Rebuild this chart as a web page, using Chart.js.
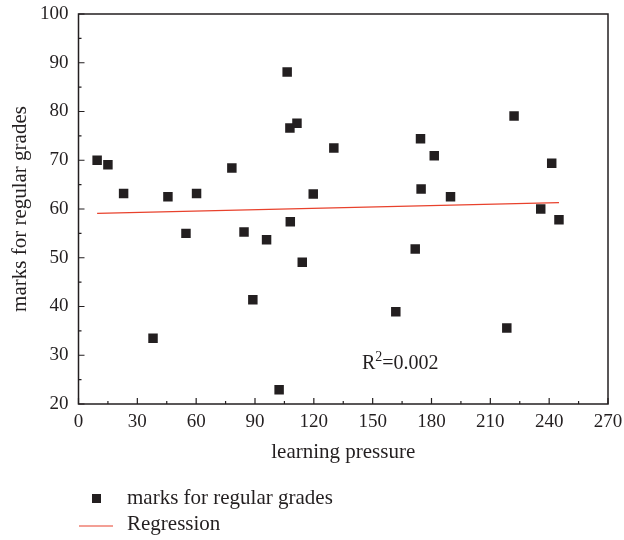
<!DOCTYPE html>
<html>
<head>
<meta charset="utf-8">
<script src="https://cdn.jsdelivr.net/npm/chart.js@4/dist/chart.umd.min.js"></script>
<style>
  html, body { margin: 0; padding: 0; background: #fff; }
  #wrap { width: 624px; height: 540px; }
</style>
</head>
<body>
<div id="wrap"><canvas id="grafico" width="624" height="540"></canvas></div>
<script>
// learning pressure (x) vs marks for regular grades (y)
const pressao = [9.5, 15, 23, 38, 45.6, 54.8, 60.2, 78.2, 84.4, 88.9, 95.9, 102.3, 106.4, 107.8, 108, 111.4,
                 114.1, 119.7, 130.2, 161.8, 171.7, 174.4, 174.7, 181.4, 189.7, 218.4, 222.1, 235.7, 241.3, 245];
const notas = [70, 69.1, 63.2, 33.5, 62.5, 55, 63.2, 68.4, 55.3, 41.4, 53.7, 22.9, 88.1, 76.6, 57.4, 77.6,
               49.1, 63.1, 72.5, 38.9, 51.8, 74.4, 64.1, 70.9, 62.5, 35.6, 79.1, 60, 69.4, 57.8];
const regX = [9.5, 245];
const regY = [59.1, 61.3];
const rotuloR2 = ['R', '2', '=0.002'];
const rotulos = ['marks for regular grades', 'Regression'];

const fonte = '"Liberation Serif", "Times New Roman", serif';
const preto = '#231f20';

// moldura, ticks internos, R2 e legenda
const extras = {
    id: 'extras',
    afterDraw(chart) {
        const ctx = chart.ctx;
        const a = chart.chartArea;
        const sx = chart.scales.x;
        const sy = chart.scales.y;
        ctx.save();
        ctx.strokeStyle = preto;
        ctx.lineWidth = 1.5;
        ctx.strokeRect(a.left, a.top, a.right - a.left, a.bottom - a.top);

        ctx.lineWidth = 1.2;
        ctx.beginPath();
        for (let v = 0; v <= 270; v += 15) {
            const px = sx.getPixelForValue(v);
            const len = v % 30 === 0 ? 6 : 3;
            ctx.moveTo(px, a.bottom);
            ctx.lineTo(px, a.bottom - len);
        }
        for (let v = 20; v <= 100; v += 5) {
            const py = sy.getPixelForValue(v);
            const len = v % 10 === 0 ? 6 : 3;
            ctx.moveTo(a.left, py);
            ctx.lineTo(a.left + len, py);
        }
        ctx.stroke();

        // R2
        ctx.fillStyle = preto;
        ctx.textBaseline = 'middle';
        ctx.textAlign = 'left';
        let x = sx.getPixelForValue(144.5);
        const y = sy.getPixelForValue(28.3);
        ctx.font = '20px ' + fonte;
        ctx.fillText(rotuloR2[0], x, y);
        x += ctx.measureText(rotuloR2[0]).width;
        ctx.font = '14px ' + fonte;
        ctx.fillText(rotuloR2[1], x, y - 6);
        x += ctx.measureText(rotuloR2[1]).width;
        ctx.font = '20px ' + fonte;
        ctx.fillText(rotuloR2[2], x, y);

        // legenda
        ctx.fillRect(92, 494, 9, 9);
        ctx.strokeStyle = '#e8412c';
        ctx.lineWidth = 1.2;
        ctx.beginPath();
        ctx.moveTo(79, 526);
        ctx.lineTo(113, 526);
        ctx.stroke();
        ctx.fillStyle = preto;
        ctx.font = '21px ' + fonte;
        ctx.fillText(chart.data.datasets[0].label, 127, 498);
        ctx.fillText(chart.data.datasets[1].label, 127, 524);
        ctx.restore();
    }
};

const ctx = document.getElementById('grafico').getContext('2d');

new Chart(ctx, {
    type: 'scatter',
    data: {
        datasets: [{
            label: rotulos[0],
            data: pressao.map((v, i) => ({ x: v, y: notas[i] })),
            pointStyle: 'rect',
            pointRadius: 6.7,
            backgroundColor: preto,
            borderColor: preto,
            borderWidth: 0
        }, {
            label: rotulos[1],
            type: 'line',
            data: regX.map((v, i) => ({ x: v, y: regY[i] })),
            borderColor: '#e8412c',
            borderWidth: 1.2,
            pointRadius: 0,
            fill: false
        }]
    },
    options: {
        responsive: false,
        animation: false,
        layout: { padding: { left: 0, right: 16, top: 14, bottom: 75 } },
        plugins: {
            legend: { display: false },
            tooltip: { enabled: false }
        },
        scales: {
            x: {
                type: 'linear',
                min: 0,
                max: 270,
                grid: { display: false, drawTicks: false },
                border: { display: false },
                ticks: {
                    stepSize: 30,
                    padding: 7,
                    color: preto,
                    font: { family: fonte, size: 19 }
                },
                title: {
                    display: true,
                    text: 'learning pressure',
                    color: preto,
                    font: { family: fonte, size: 21 },
                    padding: { top: 8, bottom: 0 }
                },
                afterFit(s) { s.height = 61; s.paddingLeft = 0; s.paddingRight = 0; }
            },
            y: {
                min: 20,
                max: 100,
                grid: { display: false, drawTicks: false },
                border: { display: false },
                ticks: {
                    stepSize: 10,
                    padding: 10,
                    color: preto,
                    font: { family: fonte, size: 19 }
                },
                title: {
                    display: true,
                    text: 'marks for regular grades',
                    color: preto,
                    font: { family: fonte, size: 21 },
                    padding: { top: 8, bottom: 0 }
                },
                afterFit(s) { s.width = 78.5; s.paddingTop = 0; s.paddingBottom = 0; }
            }
        }
    },
    plugins: [extras]
});
</script>
</body>
</html>
